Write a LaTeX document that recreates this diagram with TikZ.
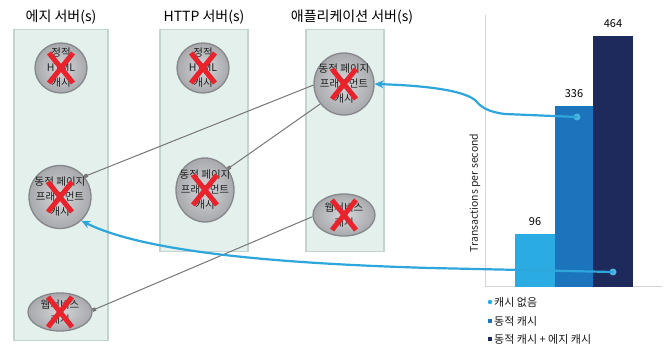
\documentclass[tikz,border=0pt]{standalone}
\usepackage{fontspec}
\setmainfont{Noto Sans CJK KR}
\usetikzlibrary{shapes.geometric,arrows.meta}
\definecolor{boxfill}{HTML}{E3F0EC}
\definecolor{boxline}{HTML}{C3D3CE}
\definecolor{ellline}{HTML}{85878A}
\definecolor{ellin}{HTML}{D5D7DA}
\definecolor{ellout}{HTML}{A7A9AC}
\definecolor{xred}{HTML}{E8232B}
\definecolor{conncol}{HTML}{777777}
\definecolor{flowcol}{HTML}{2DA6DC}
\definecolor{barA}{HTML}{2AACE2}
\definecolor{barB}{HTML}{1C74BC}
\definecolor{barC}{HTML}{1F2A5C}
\definecolor{axiscol}{HTML}{D5D5D5}
\begin{document}
\begin{tikzpicture}[x=1pt,y=-1pt,
  server/.style={draw=boxline, line width=1.5pt, fill=boxfill, anchor=north west, inner sep=0, rectangle},
  cache/.style={ellipse, draw=ellline, line width=1.3pt, inner color=ellin, outer color=ellout, inner sep=0},
  ctext/.style={font=\fontsize{10.5}{15}\selectfont, align=center, text=black!88, inner sep=0},
  title/.style={font=\fontsize{14}{16}\selectfont, inner sep=0},
  xmark/.style={xred, line width=5pt},
  connline/.style={draw=conncol, line width=1pt, -{Square[length=3.5pt,width=3.5pt]}},
  flowline/.style={draw=flowcol, line width=2.2pt, -{Stealth[length=9pt,width=8pt]}},
  fdot/.style={circle, fill=flowcol!85!white, minimum size=7pt, inner sep=0},
  bar/.style={rectangle, anchor=south west, inner sep=0},
  num/.style={font=\fontsize{11}{13}\selectfont, inner sep=0},
  legtext/.style={font=\fontsize{11}{13}\selectfont, anchor=west, inner sep=0, text=black!90},
]
\useasboundingbox (0,0) rectangle (664,344);
\fill[white] (0,0) rectangle (664,344);

% server columns
\node[server, minimum width=94pt, minimum height=311pt] (edgebox) at (13,29) {};
\node[server, minimum width=88pt, minimum height=222pt] (httpbox) at (159,29) {};
\node[server, minimum width=78pt, minimum height=222pt] (appbox) at (305,29) {};

\node[title] (t1) at (61,17) {에지 서버(s)};
\node[title] (t2) at (204,17) {HTTP 서버(s)};
\node[title] (t3) at (352,17) {애플리케이션 서버(s)};

% caches
\node[cache, minimum width=52pt, minimum height=50pt] (edgehtml) at (61,68) {};
\node[cache, minimum width=52pt, minimum height=50pt] (httphtml) at (203,68) {};
\node[cache, minimum width=60pt, minimum height=62pt] (appdyn) at (344,84) {};
\node[cache, minimum width=62pt, minimum height=63pt] (edgedyn) at (60,197) {};
\node[cache, minimum width=58pt, minimum height=64pt] (httpdyn) at (205,190) {};
\node[cache, minimum width=62pt, minimum height=42pt] (appws) at (344,215) {};
\node[cache, minimum width=64pt, minimum height=38pt] (edgews) at (60,312) {};

\node[ctext] (edgehtmlt) at (edgehtml) {정적\\HTML\\캐시};
\node[ctext] (httphtmlt) at (httphtml) {정적\\HTML\\캐시};
\node[ctext] (appdynt) at (appdyn) {동적 페이지\\프래그먼트\\캐시};
\node[ctext] (edgedynt) at (edgedyn) {동적 페이지\\프래그먼트\\캐시};
\node[ctext] (httpdynt) at (httpdyn) {동적 페이지\\프래그먼트\\캐시};
\node[ctext] (appwst) at (appws) {웹서비스\\캐시};
\node[ctext] (edgewst) at (edgews) {웹서비스\\캐시};

% red crosses
\foreach \n in {edgehtml,httphtml,appdyn,edgedyn,httpdyn,appws,edgews}{
  \draw[xmark] ([shift={(-12pt,15pt)}]\n.center) -- ([shift={(12pt,-15pt)}]\n.center);
  \draw[xmark] ([shift={(-12pt,-15pt)}]\n.center) -- ([shift={(12pt,15pt)}]\n.center);
}

% connectors
\draw[connline] (appdyn.182) -- (edgedyn.40);
\draw[connline] (appdyn.220) -- (httpdyn.43);
\draw[connline] (appws.183) -- (edgews.3);

% chart
\draw[axiscol, line width=1pt] (485,15) -- (485,287) -- (662,287);
\node[bar, fill=barA, minimum width=40pt, minimum height=53pt] (b1) at (515,287) {};
\node[bar, fill=barB, minimum width=38pt, minimum height=181pt] (b2) at (555,287) {};
\node[bar, fill=barC, minimum width=40pt, minimum height=251pt] (b3) at (593,287) {};
\node[num] (n1) at (535,222) {96};
\node[num] (n2) at (574,94) {336};
\node[num] (n3) at (613,24) {464};
\node[rotate=90, font=\fontsize{10.5}{12}\selectfont, inner sep=0, text=black!85] (ylab) at (475,193) {Transactions per second};

% legend
\node[circle, fill=barA, minimum size=4.5pt, inner sep=0] (l1) at (490,302) {};
\node[rectangle, fill=barB, minimum size=4.5pt, inner sep=0] (l2) at (490,321) {};
\node[rectangle, fill=barC, minimum size=4.5pt, inner sep=0] (l3) at (490,339) {};
\node[legtext] (lt1) at (494,302) {캐시 없음};
\node[legtext] (lt2) at (494,321) {동적 캐시};
\node[legtext] (lt3) at (494,339) {동적 캐시 + 에지 캐시};

% flows
\node[fdot] (d1) at (577,117) {};
\node[fdot] (d2) at (613,272) {};
\draw[flowline] (d1.center) -- (505,114) .. controls (488,112) and (481,107) .. (476,101) .. controls (468,93) and (440,86) .. (appdyn.east);
\draw[flowline] (d2.center) -- (430,268) .. controls (260,263) and (140,250) .. (edgedyn.-48);
\end{tikzpicture}
\end{document}
